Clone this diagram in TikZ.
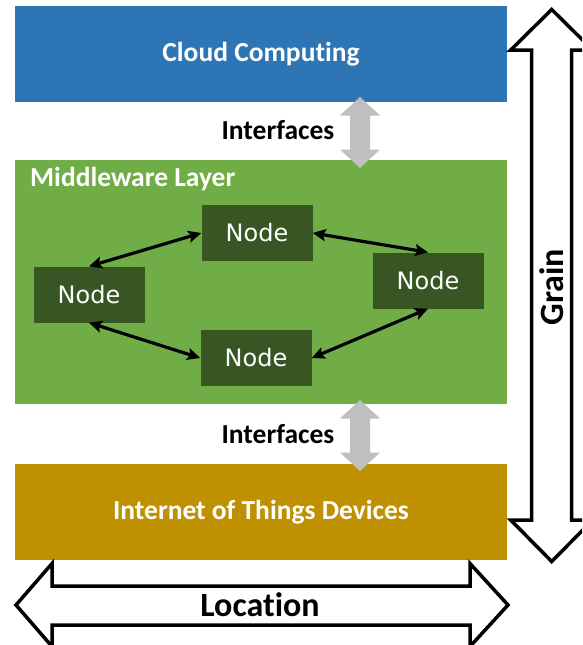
\documentclass[tikz,border=0pt]{standalone}
\usepackage{fontspec}
\setmainfont{Carlito}[Ligatures=NoCommon]
\newfontfamily\nodefont{DejaVu Sans}
\usetikzlibrary{arrows.meta}

\definecolor{cloudblue}{HTML}{2E75B6}
\definecolor{midgreen}{HTML}{70AD47}
\definecolor{nodegreen}{HTML}{375623}
\definecolor{iotgold}{HTML}{BF9000}
\definecolor{ifgray}{HTML}{BFBFBF}

\tikzset{
  layerbox/.style={draw=none, minimum width=492pt, minimum height=96pt,
    inner sep=0pt, text=white, font=\fontsize{27.5}{31}\selectfont\bfseries},
  peer/.style={fill=nodegreen, minimum width=111pt, minimum height=56pt,
    inner sep=0pt, text=white, font=\nodefont\fontsize{24}{28}\selectfont},
  link/.style={line width=3.2pt, {Stealth[length=13pt,width=12pt,inset=2.5pt]}-{Stealth[length=13pt,width=12pt,inset=2.5pt]}},
  label/.style={font=\fontsize{27.5}{31}\selectfont\bfseries, inner sep=0pt},
  axislabel/.style={font=\fontsize{34}{38}\selectfont\bfseries, inner sep=0pt},
  blockarrow/.style={draw=black, fill=white, line width=3.5pt, line join=miter},
  ifarrow/.style={fill=ifgray, draw=none}
}

\begin{document}
\begin{tikzpicture}[x=1pt, y=-1pt]
\useasboundingbox (0,0) rectangle (582,645);
\clip (0,0) rectangle (582,645);
\fill[white] (0,0) rectangle (582,645);

% three layers
\node[layerbox, fill=cloudblue] (cloud) at (261,54) {Cloud Computing};
\node[layerbox, fill=midgreen, minimum height=244pt] (middleware) at (261,282) {};
\node[layerbox, fill=iotgold] (iot) at (261,512) {Internet of Things Devices};
\node[label, text=white, anchor=west] (mwtitle) at (30,179) {Middleware Layer};

% peer nodes inside the middleware
\node[peer] (ntop) at (257,233) {Node};
\node[peer] (nleft) at (89,294.5) {Node};
\node[peer] (nright) at (428,280.5) {Node};
\node[peer] (nbottom) at (256,358) {Node};

\draw[link] (ntop.west) -- (nleft.north);
\draw[link] (ntop.east) -- (nright.north);
\draw[link] (nbottom.west) -- (nleft.south);
\draw[link] (nbottom.east) -- (nright.south);

% interface arrows between layers
\foreach \top/\name in {97/ifup, 400/ifdown} {
  \coordinate (\name) at (360,\top);
  \fill[ifarrow] (\name)
    -- ++(20,18.5) -- ++(-10,0) -- ++(0,34) -- ++(10,0)
    -- ++(-20,18.5) -- ++(-20,-18.5) -- ++(10,0) -- ++(0,-34)
    -- ++(-10,0) -- cycle;
}
\node[label] (if1) at (278,130) {Interfaces};
\node[label] (if2) at (278,434) {Interfaces};

% grain axis (vertical double arrow)
\draw[blockarrow] (551.7,9.5) -- (592.7,50) -- (571.7,50) -- (571.7,520)
  -- (592.7,520) -- (551.7,561.5) -- (510.7,520) -- (531.7,520)
  -- (531.7,50) -- (510.7,50) -- cycle;
\node[axislabel, rotate=90] (grain) at (552,287) {Grain};

% location axis (horizontal double arrow)
\draw[blockarrow] (16,605) -- (52,563.5) -- (52,586) -- (470,586)
  -- (470,563.5) -- (508,605) -- (470,646.5) -- (470,625) -- (52,625)
  -- (52,646.5) -- cycle;
\node[axislabel] (location) at (260,605) {Location};
\end{tikzpicture}
\end{document}
